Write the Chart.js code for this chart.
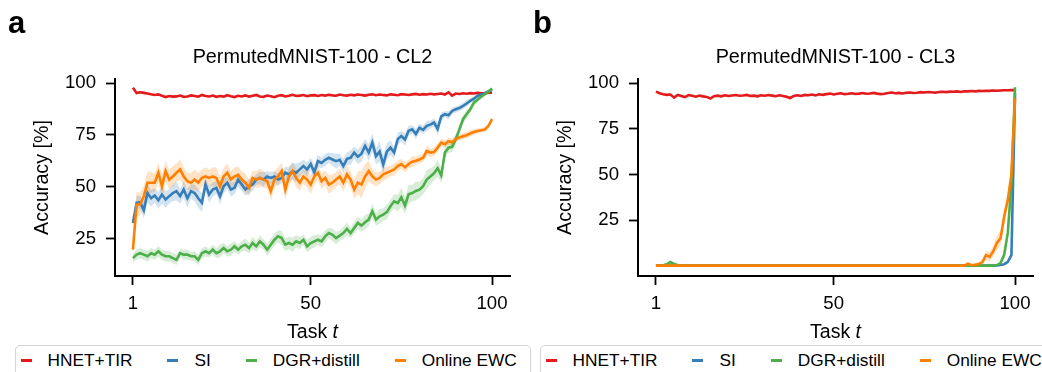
<!DOCTYPE html>
<html>
<head>
<meta charset="utf-8">
<script src="https://cdn.jsdelivr.net/npm/chart.js@4.4.1/dist/chart.umd.min.js"></script>
<style>
  html, body { margin: 0; padding: 0; background: #fff; }
  #wrap { position: relative; width: 1042px; height: 372px; overflow: hidden; background: #fff;
          font-family: "Liberation Sans", Arial, sans-serif; }
  canvas { position: absolute; top: 0; }
  #chartA { left: 0; }
  #chartB { left: 520px; }
  .legend { position: absolute; top: 345px; width: 516px; height: 40px; box-sizing: border-box;
            border: 1.5px solid #d4d4d4; border-radius: 5px; background: #fff; }
  .legend .items { position: absolute; top: 4px; left: 4.5px; display: flex; align-items: center;
                   height: 20px; font-size: 17.3px; line-height: 20px; color: #000; white-space: nowrap; }
  .legend .item { display: flex; align-items: center; margin-right: 35px; }
  .legend .handle { width: 11px; height: 3px; margin-right: 16px; }
</style>
</head>
<body>
<div id="wrap">
  <canvas id="chartA" width="520" height="345"></canvas>
  <canvas id="chartB" width="522" height="345"></canvas>
  <div class="legend" id="legendA" style="left:15px"></div>
  <div class="legend" id="legendB" style="left:540px"></div>
</div>
<script>
const seriesNames = ['HNET+TIR', 'SI', 'DGR+distill', 'Online EWC'];
const seriesColors = ['#e41a1c', '#377eb8', '#4daf4a', '#ff7f00'];
const xTickValues = [1, 50, 100];
const yTickValues = [25, 50, 75, 100];
const tasks = Array.from({ length: 100 }, (_, i) => i + 1);

// ---- panel a: PermutedMNIST-100 - CL2 ----
const hnetCL2 = [
  97.8, 95.2, 95.6, 95.3, 95.0, 94.6, 94.3, 94.6, 93.9, 93.3,
  93.8, 93.5, 93.6, 94.0, 93.4, 93.6, 94.1, 93.8, 93.5, 94.3,
  93.8, 93.6, 94.0, 93.4, 93.8, 93.5, 94.2, 93.7, 93.3, 93.9,
  93.6, 94.1, 93.5, 93.9, 94.3, 93.6, 93.4, 94.0, 93.7, 93.2,
  93.9, 94.2, 93.6, 93.9, 94.4, 93.8, 94.0, 94.3, 93.7, 94.1,
  94.2, 93.8, 94.3, 94.0, 94.4, 94.1, 93.9, 94.5, 94.2, 94.0,
  94.4, 94.1, 94.5, 94.3, 94.0, 94.4, 94.6, 94.2, 94.5, 94.3,
  94.1, 94.6, 94.4, 94.2, 94.7, 94.5, 94.3, 94.6, 94.8, 94.4,
  94.7, 94.5, 94.9, 94.6, 94.8, 95.0, 94.5, 95.6, 94.0, 95.0,
  94.8, 95.1, 94.9, 95.2, 95.0, 95.3, 95.1, 95.2, 95.4, 95.4
];
const siCL2 = [
  32.6, 42.3, 42.6, 38.7, 47.0, 44.5, 45.8, 43.5, 46.3, 43.9,
  45.5, 47.0, 47.9, 45.5, 48.7, 44.5, 47.9, 47.0, 44.5, 42.3,
  51.1, 46.3, 48.7, 49.5, 45.5, 50.3, 51.9, 48.7, 49.5, 53.5,
  51.1, 48.7, 50.3, 51.1, 53.5, 54.3, 53.5, 55.0, 54.3, 55.0,
  53.5, 54.3, 56.8, 56.0, 57.6, 56.8, 58.4, 60.0, 58.4, 61.0,
  57.0, 62.4, 61.5, 63.0, 64.0, 63.2, 62.4, 63.0, 60.0, 63.5,
  64.0, 66.5, 64.5, 66.0, 69.7, 66.5, 71.3, 64.8, 67.0, 60.8,
  67.0, 68.9, 66.5, 73.0, 74.5, 72.8, 77.0, 77.7, 75.5, 78.5,
  77.5, 79.4, 80.0, 81.0, 77.9, 84.0, 85.0, 84.5, 86.6, 87.4,
  88.0, 89.0, 90.2, 91.5, 92.5, 93.9, 94.5, 95.0, 96.0, 96.8
];
const dgrCL2 = [
  15.6, 17.3, 18.0, 17.3, 16.5, 18.0, 17.3, 18.9, 17.3, 16.5,
  16.5, 15.6, 14.8, 18.0, 17.3, 17.3, 16.5, 16.5, 14.8, 18.0,
  18.9, 18.0, 19.7, 18.0, 18.9, 20.5, 18.9, 19.7, 21.3, 19.7,
  21.3, 22.1, 20.5, 22.9, 21.3, 23.7, 22.1, 19.7, 22.1, 24.5,
  26.1, 25.3, 22.1, 22.9, 22.1, 23.7, 22.9, 24.5, 21.3, 22.9,
  23.7, 24.5, 23.7, 26.1, 27.7, 26.9, 25.3, 26.5, 27.7, 29.7,
  27.7, 30.2, 32.6, 31.3, 32.9, 34.2, 38.2, 34.2, 35.8, 36.6,
  37.8, 40.6, 43.0, 42.2, 45.0, 41.0, 46.4, 47.0, 48.0, 48.6,
  50.3, 53.5, 55.0, 56.5, 59.0, 55.5, 66.5, 68.9, 69.3, 73.0,
  77.7, 82.6, 85.0, 87.4, 90.6, 92.0, 93.5, 94.7, 95.8, 97.4
];
const ewcCL2 = [
  19.7, 41.5, 41.5, 45.5, 52.0, 52.0, 52.0, 56.8, 50.3, 57.6,
  53.5, 55.0, 56.8, 58.4, 55.0, 52.7, 52.0, 53.5, 52.0, 54.3,
  55.0, 54.3, 55.0, 54.3, 50.3, 55.0, 56.8, 53.5, 55.0, 55.8,
  53.5, 52.0, 49.5, 54.3, 53.5, 54.3, 53.5, 52.7, 47.9, 53.5,
  55.0, 57.6, 48.7, 55.0, 57.6, 54.3, 52.0, 55.0, 53.5, 51.1,
  55.0, 56.8, 52.7, 54.3, 51.1, 52.0, 53.5, 55.0, 52.0, 56.0,
  53.5, 48.7, 52.0, 51.1, 55.0, 57.6, 55.0, 53.5, 54.3, 56.0,
  56.8, 57.6, 58.4, 60.0, 61.0, 59.4, 61.0, 62.1, 62.6, 63.2,
  64.0, 67.3, 66.5, 66.8, 68.9, 71.3, 70.5, 72.0, 71.5, 73.0,
  73.8, 74.4, 74.9, 75.8, 76.4, 76.9, 77.3, 77.6, 79.4, 82.6
];
const hnetCL2Std = [
  0.8, 0.6, 0.5, 0.5, 0.5, 0.5, 0.4, 0.5, 0.4, 0.5,
  0.4, 0.5, 0.4, 0.4, 0.5, 0.4, 0.5, 0.4, 0.4, 0.5,
  0.4, 0.4, 0.5, 0.4, 0.4, 0.5, 0.4, 0.4, 0.5, 0.4,
  0.4, 0.5, 0.4, 0.4, 0.4, 0.5, 0.4, 0.4, 0.5, 0.4,
  0.4, 0.4, 0.5, 0.4, 0.4, 0.4, 0.5, 0.4, 0.4, 0.4,
  0.4, 0.4, 0.4, 0.5, 0.4, 0.4, 0.4, 0.4, 0.5, 0.4,
  0.4, 0.4, 0.4, 0.4, 0.5, 0.4, 0.4, 0.4, 0.4, 0.4,
  0.4, 0.4, 0.4, 0.4, 0.4, 0.4, 0.4, 0.4, 0.4, 0.4,
  0.4, 0.4, 0.4, 0.4, 0.4, 0.4, 0.5, 0.6, 0.6, 0.4,
  0.4, 0.4, 0.4, 0.4, 0.4, 0.4, 0.4, 0.4, 0.4, 0.4
];
const siCL2Std = [
  1.5, 3.5, 3.0, 4.0, 4.5, 4.0, 3.5, 4.0, 4.5, 4.0,
  3.5, 4.0, 4.5, 3.5, 4.0, 4.5, 3.5, 4.0, 4.5, 4.5,
  3.5, 4.0, 3.5, 3.0, 4.0, 3.5, 3.0, 3.5, 3.0, 3.5,
  3.0, 3.0, 3.5, 3.0, 2.5, 3.0, 3.5, 2.5, 3.0, 2.5,
  3.0, 2.5, 3.0, 3.5, 4.0, 4.5, 3.5, 3.0, 3.5, 3.0,
  3.5, 3.0, 2.5, 3.0, 2.5, 3.0, 3.5, 3.0, 3.5, 3.0,
  3.5, 3.0, 3.5, 4.0, 3.5, 4.0, 4.5, 4.0, 5.0, 4.5,
  4.0, 3.5, 3.0, 3.0, 2.5, 3.0, 2.5, 2.0, 2.5, 2.0,
  2.0, 2.5, 2.0, 2.0, 3.0, 2.0, 1.5, 2.0, 1.5, 1.5,
  1.5, 1.5, 1.5, 1.2, 1.2, 1.0, 1.0, 1.0, 0.8, 0.8
];
const dgrCL2Std = [
  2.0, 2.5, 2.5, 2.5, 2.5, 2.5, 2.5, 2.5, 2.5, 2.5,
  2.5, 2.5, 2.5, 2.0, 2.5, 2.5, 2.0, 2.5, 2.5, 2.5,
  2.5, 2.0, 2.5, 2.5, 3.0, 2.5, 2.5, 3.0, 2.5, 2.5,
  2.5, 3.0, 2.5, 3.0, 2.5, 3.0, 2.5, 3.0, 3.0, 3.0,
  3.0, 3.5, 3.0, 3.0, 3.5, 3.0, 3.0, 2.5, 3.0, 3.0,
  3.0, 2.5, 3.0, 3.0, 2.5, 3.0, 3.0, 2.5, 3.0, 3.0,
  2.5, 3.0, 3.0, 3.0, 3.5, 3.0, 3.5, 3.0, 3.5, 3.0,
  3.5, 3.0, 3.5, 4.0, 4.5, 4.0, 4.5, 4.0, 4.5, 4.0,
  4.0, 4.5, 4.0, 3.5, 4.0, 3.5, 3.0, 2.5, 2.5, 2.5,
  2.0, 2.0, 2.0, 1.5, 1.5, 1.5, 1.2, 1.0, 1.0, 0.8
];
const ewcCL2Std = [
  2.0, 6.0, 5.5, 5.0, 5.5, 5.0, 4.5, 5.0, 5.5, 5.0,
  4.5, 5.0, 4.5, 5.0, 4.5, 4.0, 4.5, 5.0, 4.5, 4.0,
  4.5, 4.0, 4.5, 5.0, 4.5, 4.0, 4.5, 4.0, 4.5, 4.0,
  4.0, 4.5, 4.0, 3.5, 4.0, 4.5, 4.0, 3.5, 4.5, 4.0,
  4.5, 4.0, 5.0, 4.5, 4.0, 4.5, 4.0, 3.5, 4.0, 4.5,
  4.0, 3.5, 4.0, 3.5, 4.5, 4.0, 3.5, 4.0, 4.0, 4.0,
  4.0, 4.5, 5.5, 6.5, 6.0, 5.0, 3.5, 3.5, 3.0, 3.0,
  3.0, 2.5, 3.0, 2.5, 2.5, 2.5, 2.0, 2.5, 2.0, 2.0,
  2.0, 2.5, 2.0, 2.0, 2.0, 2.0, 1.8, 1.8, 1.8, 1.5,
  1.5, 1.5, 1.5, 1.5, 1.5, 1.2, 1.2, 1.2, 1.0, 1.0
];

// ---- panel b: PermutedMNIST-100 - CL3 ----
const hnetCL3 = [
  95.4, 94.5, 94.0, 93.6, 93.8, 92.1, 93.6, 93.0, 92.4, 93.5,
  93.1, 92.6, 93.2, 92.8, 92.5, 91.6, 92.9, 93.2, 92.8, 93.4,
  93.0, 93.3, 93.5, 93.1, 93.3, 93.6, 93.0, 93.2, 92.8, 93.4,
  93.1, 93.5, 93.2, 92.9, 93.4, 93.0, 92.6, 91.9, 93.0, 93.4,
  93.0, 93.6, 93.4, 93.8, 93.3, 93.9, 93.6, 94.0, 94.3, 93.8,
  94.2, 94.5, 94.0, 94.2, 94.5, 94.1, 94.3, 94.6, 94.2, 94.4,
  94.7, 94.3, 94.0, 94.2, 94.6, 94.9, 94.5, 94.7, 94.4, 94.8,
  94.9, 94.6, 94.8, 95.1, 94.9, 95.2, 95.0, 94.8, 95.2, 95.3,
  95.1, 95.4, 95.3, 95.5, 95.2, 95.6, 95.5, 95.7, 95.5, 95.8,
  95.7, 95.9, 95.8, 96.0, 95.9, 96.0, 96.1, 96.1, 96.2, 96.2
];
const siCL3 = [
  0.1, 0.1, 0.1, 0.1, 0.1, 0.1, 0.1, 0.1, 0.1, 0.1,
  0.1, 0.1, 0.1, 0.1, 0.1, 0.1, 0.1, 0.1, 0.1, 0.1,
  0.1, 0.1, 0.1, 0.1, 0.1, 0.1, 0.1, 0.1, 0.1, 0.1,
  0.1, 0.1, 0.1, 0.1, 0.1, 0.1, 0.1, 0.1, 0.1, 0.1,
  0.1, 0.1, 0.1, 0.1, 0.1, 0.1, 0.1, 0.1, 0.1, 0.1,
  0.1, 0.1, 0.1, 0.1, 0.1, 0.1, 0.1, 0.1, 0.1, 0.1,
  0.1, 0.1, 0.1, 0.1, 0.1, 0.1, 0.1, 0.1, 0.1, 0.1,
  0.1, 0.1, 0.1, 0.1, 0.1, 0.1, 0.1, 0.1, 0.1, 0.1,
  0.1, 0.1, 0.1, 0.1, 0.1, 0.1, 0.1, 0.1, 0.1, 0.1,
  0.1, 0.1, 0.1, 0.1, 0.2, 0.4, 0.8, 2.2, 5.8, 94.5
];
const dgrCL3 = [
  0.1, 0.2, 0.3, 0.8, 2.0, 0.9, 0.4, 0.2, 0.1, 0.1,
  0.1, 0.1, 0.1, 0.1, 0.1, 0.1, 0.1, 0.1, 0.1, 0.1,
  0.1, 0.1, 0.1, 0.1, 0.1, 0.1, 0.1, 0.1, 0.1, 0.1,
  0.1, 0.1, 0.1, 0.1, 0.1, 0.1, 0.1, 0.1, 0.1, 0.1,
  0.1, 0.1, 0.1, 0.1, 0.1, 0.1, 0.1, 0.1, 0.1, 0.1,
  0.1, 0.1, 0.1, 0.1, 0.1, 0.1, 0.1, 0.1, 0.1, 0.1,
  0.1, 0.1, 0.1, 0.1, 0.1, 0.1, 0.1, 0.1, 0.1, 0.1,
  0.1, 0.1, 0.1, 0.1, 0.1, 0.1, 0.1, 0.1, 0.1, 0.1,
  0.1, 0.1, 0.1, 0.1, 0.1, 0.1, 0.1, 0.1, 0.1, 0.1,
  0.1, 0.1, 0.1, 0.2, 0.4, 1.5, 6.0, 18.0, 45.0, 97.8
];
const ewcCL3 = [
  0.1, 0.1, 0.1, 0.1, 0.1, 0.1, 0.1, 0.1, 0.1, 0.1,
  0.1, 0.1, 0.1, 0.1, 0.1, 0.1, 0.1, 0.1, 0.1, 0.1,
  0.1, 0.1, 0.1, 0.1, 0.1, 0.1, 0.1, 0.1, 0.1, 0.1,
  0.1, 0.1, 0.1, 0.1, 0.1, 0.1, 0.1, 0.1, 0.1, 0.1,
  0.1, 0.1, 0.1, 0.1, 0.1, 0.1, 0.1, 0.1, 0.1, 0.1,
  0.1, 0.1, 0.1, 0.1, 0.1, 0.1, 0.1, 0.1, 0.1, 0.1,
  0.1, 0.1, 0.1, 0.1, 0.1, 0.1, 0.1, 0.1, 0.1, 0.1,
  0.1, 0.1, 0.1, 0.1, 0.1, 0.1, 0.1, 0.1, 0.1, 0.1,
  0.1, 0.1, 0.1, 0.1, 0.1, 0.1, 1.2, 0.3, 0.5, 0.9,
  2.0, 5.8, 4.9, 8.0, 12.5, 15.0, 27.0, 36.0, 50.0, 91.8
];
const hnetCL3Std = [
  0.6, 0.6, 0.5, 0.5, 0.5, 0.6, 0.5, 0.5, 0.5, 0.5,
  0.5, 0.5, 0.5, 0.5, 0.5, 0.6, 0.5, 0.5, 0.5, 0.5,
  0.5, 0.5, 0.5, 0.5, 0.5, 0.5, 0.5, 0.5, 0.5, 0.5,
  0.5, 0.5, 0.5, 0.5, 0.6, 0.7, 0.8, 0.8, 0.7, 0.5,
  0.5, 0.5, 0.5, 0.5, 0.5, 0.5, 0.5, 0.5, 0.5, 0.5,
  0.5, 0.5, 0.5, 0.5, 0.5, 0.5, 0.5, 0.5, 0.5, 0.5,
  0.5, 0.5, 0.5, 0.5, 0.5, 0.5, 0.5, 0.5, 0.5, 0.5,
  0.5, 0.5, 0.5, 0.5, 0.5, 0.5, 0.5, 0.5, 0.5, 0.5,
  0.5, 0.5, 0.5, 0.5, 0.5, 0.5, 0.5, 0.5, 0.5, 0.5,
  0.5, 0.5, 0.5, 0.5, 0.5, 0.5, 0.5, 0.5, 0.5, 0.5
];
const siCL3Std = [
  0.2, 0.2, 0.2, 0.2, 0.2, 0.2, 0.2, 0.2, 0.2, 0.2,
  0.2, 0.2, 0.2, 0.2, 0.2, 0.2, 0.2, 0.2, 0.2, 0.2,
  0.2, 0.2, 0.2, 0.2, 0.2, 0.2, 0.2, 0.2, 0.2, 0.2,
  0.2, 0.2, 0.2, 0.2, 0.2, 0.2, 0.2, 0.2, 0.2, 0.2,
  0.2, 0.2, 0.2, 0.2, 0.2, 0.2, 0.2, 0.2, 0.2, 0.2,
  0.2, 0.2, 0.2, 0.2, 0.2, 0.2, 0.2, 0.2, 0.2, 0.2,
  0.2, 0.2, 0.2, 0.2, 0.2, 0.2, 0.2, 0.2, 0.2, 0.2,
  0.2, 0.2, 0.2, 0.2, 0.2, 0.2, 0.2, 0.2, 0.2, 0.2,
  0.2, 0.2, 0.2, 0.2, 0.2, 0.2, 0.2, 0.2, 0.2, 0.2,
  0.2, 0.2, 0.2, 0.2, 0.2, 0.3, 0.5, 1.0, 1.5, 1.0
];
const dgrCL3Std = [
  0.3, 0.3, 0.4, 1.0, 1.0, 1.0, 0.5, 0.3, 0.3, 0.3,
  0.3, 0.3, 0.3, 0.3, 0.3, 0.3, 0.3, 0.3, 0.3, 0.3,
  0.3, 0.3, 0.3, 0.3, 0.3, 0.3, 0.3, 0.3, 0.3, 0.3,
  0.3, 0.3, 0.3, 0.3, 0.3, 0.3, 0.3, 0.3, 0.3, 0.3,
  0.3, 0.3, 0.3, 0.3, 0.3, 0.3, 0.3, 0.3, 0.3, 0.3,
  0.3, 0.3, 0.3, 0.3, 0.3, 0.3, 0.3, 0.3, 0.3, 0.3,
  0.3, 0.3, 0.3, 0.3, 0.3, 0.3, 0.3, 0.3, 0.3, 0.3,
  0.3, 0.3, 0.3, 0.3, 0.3, 0.3, 0.3, 0.3, 0.3, 0.3,
  0.3, 0.3, 0.3, 0.3, 0.3, 0.3, 0.3, 0.3, 0.3, 0.3,
  0.3, 0.3, 0.3, 0.3, 0.5, 1.0, 2.0, 3.0, 4.0, 1.0
];
const ewcCL3Std = [
  0.2, 0.2, 0.2, 0.2, 0.2, 0.2, 0.2, 0.2, 0.2, 0.2,
  0.2, 0.2, 0.2, 0.2, 0.2, 0.2, 0.2, 0.2, 0.2, 0.2,
  0.2, 0.2, 0.2, 0.2, 0.2, 0.2, 0.2, 0.2, 0.2, 0.2,
  0.2, 0.2, 0.2, 0.2, 0.2, 0.2, 0.2, 0.2, 0.2, 0.2,
  0.2, 0.2, 0.2, 0.2, 0.2, 0.2, 0.2, 0.2, 0.2, 0.2,
  0.2, 0.2, 0.2, 0.2, 0.2, 0.2, 0.2, 0.2, 0.2, 0.2,
  0.2, 0.2, 0.2, 0.2, 0.2, 0.2, 0.2, 0.2, 0.2, 0.2,
  0.2, 0.2, 0.2, 0.2, 0.2, 0.2, 0.2, 0.2, 0.2, 0.2,
  0.2, 0.2, 0.2, 0.2, 0.2, 0.2, 1.0, 1.0, 1.0, 1.0,
  1.5, 2.5, 2.5, 3.0, 4.0, 4.0, 4.0, 4.0, 4.0, 2.0
];

const FONT = '"Liberation Sans", Arial, sans-serif';

function rgba(hex, a) {
    const n = parseInt(hex.slice(1), 16);
    return `rgba(${(n >> 16) & 255}, ${(n >> 8) & 255}, ${n & 255}, ${a})`;
}

// title, axis labels and panel letter, placed like the matplotlib figure
const panelText = {
    id: 'panelText',
    afterDraw(chart, args, opts) {
        const ctx = chart.ctx;
        const area = chart.chartArea;
        const cx = (area.left + area.right) / 2;
        ctx.save();
        ctx.fillStyle = '#000';
        ctx.textBaseline = 'alphabetic';

        ctx.font = `bold 31px ${FONT}`;
        ctx.textAlign = 'left';
        ctx.fillText(opts.letter, opts.letterX, 33);

        ctx.font = `19.8px ${FONT}`;
        ctx.textAlign = 'center';
        ctx.fillText(opts.title, cx, 62.5);

        // x label: "Task " upright, "t" italic
        ctx.font = `19.5px ${FONT}`;
        const w1 = ctx.measureText('Task ').width;
        ctx.font = `italic 19.5px ${FONT}`;
        const w2 = ctx.measureText('t').width;
        const x0 = cx - (w1 + w2) / 2;
        ctx.textAlign = 'left';
        ctx.font = `19.5px ${FONT}`;
        ctx.fillText('Task ', x0, 338);
        ctx.font = `italic 19.5px ${FONT}`;
        ctx.fillText('t', x0 + w1, 338);

        // y label
        ctx.translate(area.left - 67.5, (area.top + area.bottom) / 2);
        ctx.rotate(-Math.PI / 2);
        ctx.font = `19.7px ${FONT}`;
        ctx.textAlign = 'center';
        ctx.fillText('Accuracy [%]', 0, 0);
        ctx.restore();
    }
};

function buildDatasets(values, stds) {
    const bands = [];
    const lines = [];
    values.forEach((vals, s) => {
        const color = seriesColors[s];
        bands.push({
            data: tasks.map((t, i) => ({ x: t, y: vals[i] + stds[s][i] })),
            borderWidth: 0, pointRadius: 0, fill: false, order: 20 + s
        });
        bands.push({
            data: tasks.map((t, i) => ({ x: t, y: vals[i] - stds[s][i] })),
            borderWidth: 0, pointRadius: 0, fill: '-1',
            backgroundColor: rgba(color, 0.22), order: 20 + s
        });
        lines.push({
            label: seriesNames[s],
            data: tasks.map((t, i) => ({ x: t, y: vals[i] })),
            borderColor: color, borderWidth: 2.6, pointRadius: 0,
            fill: false, tension: 0, order: 3 - s
        });
    });
    return bands.concat(lines);
}

function makeChart(canvasId, values, stds, yMin, yMax, yAxisWidth, rightPad, letter, letterX, title) {
    const axisCommon = {
        grid: { display: true, drawOnChartArea: false, drawTicks: true, tickLength: 9, tickWidth: 1.8, tickColor: '#000' },
        border: { display: true, color: '#000', width: 2 }
    };
    return new Chart(document.getElementById(canvasId).getContext('2d'), {
        type: 'line',
        data: { datasets: buildDatasets(values, stds) },
        options: {
            responsive: false,
            animation: false,
            events: [],
            layout: { padding: { left: 0, right: rightPad, top: 79, bottom: 0 } },
            plugins: {
                legend: { display: false },
                tooltip: { enabled: false },
                panelText: { letter: letter, letterX: letterX, title: title }
            },
            scales: {
                x: {
                    ...axisCommon,
                    type: 'linear', min: -3.95, max: 104.95,
                    afterBuildTicks: (scale) => { scale.ticks = xTickValues.map(v => ({ value: v })); },
                    afterFit: (scale) => { scale.height = 69; },
                    ticks: { color: '#000', padding: 8, maxRotation: 0, autoSkip: false,
                             font: { family: FONT, size: 18.6 }, callback: (v) => String(v) }
                },
                y: {
                    ...axisCommon,
                    min: yMin, max: yMax,
                    afterBuildTicks: (scale) => { scale.ticks = yTickValues.map(v => ({ value: v })); },
                    afterFit: (scale) => { scale.width = yAxisWidth; },
                    ticks: { color: '#000', padding: 10, autoSkip: false,
                             font: { family: FONT, size: 18.6 }, callback: (v) => String(v) }
                }
            }
        },
        plugins: [panelText]
    });
}

makeChart('chartA', [hnetCL2, siCL2, dgrCL2, ewcCL2], [hnetCL2Std, siCL2Std, dgrCL2Std, ewcCL2Std],
    7, 102, 115, 10, 'a', 8, 'PermutedMNIST-100 - CL2');
makeChart('chartB', [hnetCL3, siCL3, dgrCL3, ewcCL3], [hnetCL3Std, siCL3Std, dgrCL3Std, ewcCL3Std],
    -5.6, 102.3, 118, 9, 'b', 13, 'PermutedMNIST-100 - CL3');

// legends below each panel
['legendA', 'legendB'].forEach((id) => {
    const items = seriesNames.map((name, s) =>
        `<span class="item"><span class="handle" style="background:${seriesColors[s]}"></span>${name}</span>`
    ).join('');
    document.getElementById(id).innerHTML = `<div class="items">${items}</div>`;
});
</script>
</body>
</html>
